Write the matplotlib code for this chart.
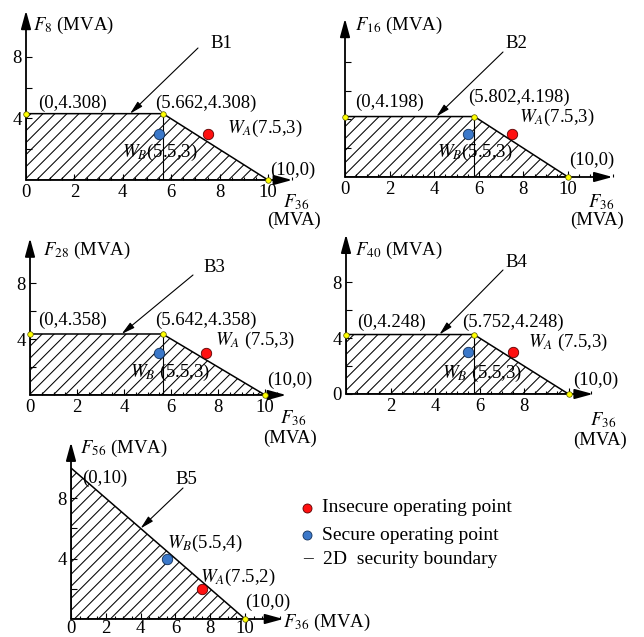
import numpy as np
import matplotlib.pyplot as plt
from matplotlib.patches import Polygon
from matplotlib.lines import Line2D
from matplotlib.ticker import MultipleLocator

plt.rcParams['font.family'] = ['Liberation Serif', 'DejaVu Serif']
plt.rcParams['mathtext.fontset'] = 'stix'

# boundaries B1..B4: (0,top) - (knee,top) - (10,0)
flow_ids = ["8", "16", "28", "40"]
tops = [4.308, 4.198, 4.358, 4.248]
knees = [5.662, 5.802, 5.642, 5.752]
x_end = 10
w_a = (7.5, 3)
w_b = (5.5, 3)
# boundary B5: (0,10) - (10,0)
flow5 = "56"
top5 = 10
w_a5 = (7.5, 2)
w_b5 = (5.5, 4)
# where the "B" arrows touch the boundary
b_arrow_x = [4.3, 4.1, 3.9, 4.2, 4.0]
xticks = [0, 2, 4, 6, 8, 10]

W, H = 644, 637
fig = plt.figure(figsize=(W / 100, H / 100), dpi=100)
FS = 13.5


def fx(x, y):
    return x / W, 1 - y / H


def txt(x, y, s, size=FS):
    fig.text(*fx(x, y), s, ha='left', va='center', fontsize=size)


def make_ax(ox, oy, kx, ky, xmax, ymax):
    ax = fig.add_axes([ox / W, 1 - oy / H, xmax * kx / W, ymax * ky / H])
    ax.set_xlim(0, xmax)
    ax.set_ylim(0, ymax)
    ax.patch.set_visible(False)
    for s in ax.spines.values():
        s.set_visible(False)
    ap = dict(arrowstyle='-|>,head_length=1.1,head_width=0.3', color='black',
              lw=1.3, shrinkA=0, shrinkB=0, mutation_scale=10)
    ax.annotate('', xy=(1, 0), xytext=(0, 0), xycoords='axes fraction', arrowprops=ap)
    ax.annotate('', xy=(0, 1), xytext=(0, 0), xycoords='axes fraction', arrowprops=ap)
    ax.tick_params(which='both', direction='in', width=0.8, labelsize=FS)
    ax.tick_params(which='major', length=4, pad=3)
    ax.tick_params(which='minor', length=2.5)
    ax.xaxis.set_minor_locator(MultipleLocator(0.5))
    return ax


def hatch(ax, poly, kx, ky, xmax, ymax, step=12):
    for c in np.arange(-ymax * ky, xmax * kx, step):
        xs = np.array([0, xmax])
        ys = (kx * xs - c) / ky
        ln, = ax.plot(xs, ys, color='black', lw=0.75)
        ln.set_clip_path(poly)


def points(ax, a, b):
    ax.plot(*a, 'o', ms=7.5, mfc='#ff1010', mec='#5a0000', mew=0.6, clip_on=False, zorder=6)
    ax.plot(*b, 'o', ms=7.5, mfc='#3b78c9', mec='#10305a', mew=0.6, clip_on=False, zorder=6)


def yellow(ax, xs, ys):
    ax.plot(xs, ys, 'o', ms=4, mfc='#ffff00', mec='#555500', mew=0.5, clip_on=False, zorder=7)


def b_arrow(ax, xy, tail):
    ax.annotate('', xy=xy, xytext=fx(*tail), textcoords='figure fraction',
                arrowprops=dict(arrowstyle='-|>,head_length=0.8,head_width=0.2',
                                color='black', lw=0.8, shrinkA=0, shrinkB=0,
                                mutation_scale=10))


# pixel geometry: origin x, origin y, px/unit x, px/unit y, xmax, ymax
geo = [(26, 180, 24.2, 15.4, 11.0, 11.0),
       (345, 177, 22.3, 14.4, 12.0, 11.0),
       (30, 395, 23.5, 14.0, 10.9, 11.2),
       (346, 394, 22.25, 14.0, 11.1, 11.4)]

# text positions (pixels) per panel
pos = [dict(yl=(33, 25), B=(210, 43), tail=(198, 48), c0=(38, 103), kn=(155, 103),
            wa=(227, 128), wb=(122, 152), end=(270, 170), f=(283, 202), mva=(267, 220)),
       dict(yl=(355, 25), B=(505, 43), tail=(503, 52), c0=(355, 102), kn=(468, 97),
            wa=(519, 117), wb=(437, 152), end=(569, 160), f=(588, 202), mva=(570, 220)),
       dict(yl=(43, 250), B=(203, 267), tail=(193, 275), c0=(38, 320), kn=(155, 320),
            wa=(215, 340), wb=(130, 372), end=(267, 380), f=(280, 418), mva=(263, 438)),
       dict(yl=(355, 250), B=(505, 263), tail=(503, 270), c0=(357, 322), kn=(462, 322),
            wa=(528, 342), wb=(442, 373), end=(573, 380), f=(590, 420), mva=(573, 440))]

wa_sep = ["", "", " ", " "]
for i in range(4):
    ox, oy, kx, ky, xmax, ymax = geo[i]
    p = pos[i]
    ax = make_ax(ox, oy, kx, ky, xmax, ymax)
    top, knee = tops[i], knees[i]
    verts = [(0, 0), (0, top), (knee, top), (x_end, 0)]
    poly = Polygon(verts, closed=True, fill=False, edgecolor='black', lw=1.1, zorder=3)
    ax.add_patch(poly)
    hatch(ax, poly, kx, ky, xmax, ymax)
    ax.plot([knee, knee], [0, top], color='black', lw=0.8)
    yellow(ax, [0, knee, x_end], [top, top, 0])
    points(ax, w_a, w_b)

    ax.set_xticks(xticks)
    if i == 3:
        ax.set_xticklabels(['', '2', '4', '6', '8', ''])
        ax.set_yticks([0, 2, 4, 6, 8])
        ax.set_yticklabels(['0', '', '4', '', '8'])
    else:
        ax.set_xticklabels([str(t) for t in xticks])
        ax.set_yticks([2, 4, 6, 8])
        ax.set_yticklabels([''] * 4 if i == 1 else ['', '4', '', '8'])

    txt(*p['yl'], r'$F_{%s}$ (MVA)' % flow_ids[i])
    txt(*p['B'], 'B%d' % (i + 1))
    b_arrow(ax, (b_arrow_x[i], top), p['tail'])
    txt(*p['c0'], '(0,%.3f)' % top)
    txt(*p['kn'], '(%.3f,%.3f)' % (knee, top))
    txt(*p['wa'], r'$W_A$%s(%g,%g)' % (wa_sep[i], *w_a))
    txt(*p['wb'], r'$W_B$%s(%g,%g)' % (wa_sep[i], *w_b))
    txt(*p['end'], '(%d,0)' % x_end)
    txt(*p['f'], r'$F_{36}$')
    txt(*p['mva'], '(MVA)')

# panel 5
kx, ky, xmax, ymax = 17.4, 15.1, 12.2, 11.7
ax = make_ax(71, 619, kx, ky, xmax, ymax)
ax.tick_params(axis='x', which='major', pad=0.5)
poly = Polygon([(0, 0), (0, top5), (x_end, 0)], closed=True, fill=False,
               edgecolor='black', lw=1.1, zorder=3)
ax.add_patch(poly)
hatch(ax, poly, kx, ky, xmax, ymax)
yellow(ax, [x_end], [0])
points(ax, w_a5, w_b5)
ax.set_xticks(xticks)
ax.set_xticklabels([str(t) for t in xticks])
ax.set_yticks([2, 4, 6, 8])
ax.set_yticklabels(['', '4', '', '8'])
txt(80, 448, r'$F_{%s}$ (MVA)' % flow5)
txt(82, 478, '(0,%d)' % top5)
txt(175, 480, 'B5')
b_arrow(ax, (b_arrow_x[4], top5 - b_arrow_x[4]), (183, 488))
txt(167, 543, r'$W_B$(%g,%g)' % w_b5)
txt(200, 577, r'$W_A$(%g,%g)' % w_a5)
txt(245, 602, '(%d,0)' % x_end)
txt(283, 622, r'$F_{36}$ (MVA)')

# legend
fig.add_artist(Line2D([fx(307, 508)[0]], [fx(307, 508)[1]], marker='o', ms=6.5,
                      mfc='#ff1010', mec='#5a0000', mew=0.6, transform=fig.transFigure))
fig.add_artist(Line2D([fx(307, 535)[0]], [fx(307, 535)[1]], marker='o', ms=6.5,
                      mfc='#3b78c9', mec='#10305a', mew=0.6, transform=fig.transFigure))
txt(303, 559, '–', 14)
txt(322, 508, 'Insecure operating point', 14)
txt(322, 535, 'Secure operating point', 14)
txt(323, 560, '2D  security boundary', 14)

fig.savefig('out.png', dpi=100)
